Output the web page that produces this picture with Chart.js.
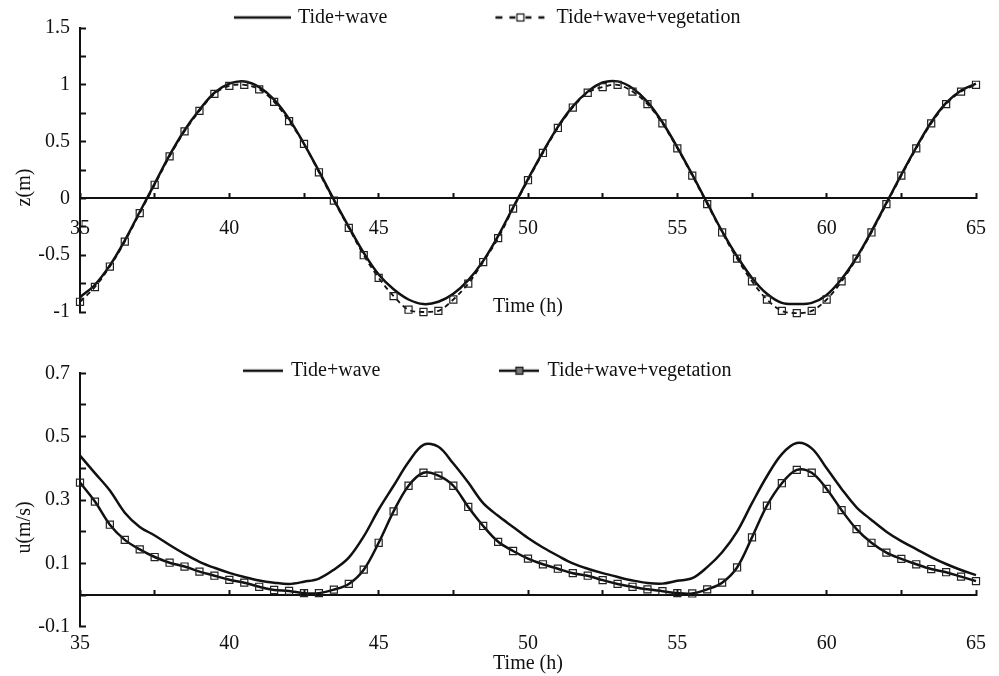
<!DOCTYPE html>
<html><head><meta charset="utf-8">
<script src="https://cdn.jsdelivr.net/npm/chart.js@4.4.1/dist/chart.umd.min.js"></script>
<style>
html,body{margin:0;padding:0;background:#fff;}
#wrap{position:relative;width:999px;height:676px;overflow:hidden;background:#fff;}
#c1{position:absolute;left:0;top:0;}
#c2{position:absolute;left:0;top:340px;}
</style></head><body>
<div id="wrap"><canvas id="c1" width="999" height="340"></canvas><canvas id="c2" width="999" height="336"></canvas></div>
<script>
// ---------- data ----------
const seriesNames = ['Tide+wave', 'Tide+wave+vegetation'];
const times = [35,35.5,36,36.5,37,37.5,38,38.5,39,39.5,
  40,40.5,41,41.5,42,42.5,43,43.5,44,44.5,
  45,45.5,46,46.5,47,47.5,48,48.5,49,49.5,
  50,50.5,51,51.5,52,52.5,53,53.5,54,54.5,
  55,55.5,56,56.5,57,57.5,58,58.5,59,59.5,
  60,60.5,61,61.5,62,62.5,63,63.5,64,64.5,65];
const zTideWave = [-0.87,-0.76,-0.59,-0.37,-0.12,0.13,0.38,0.60,0.78,0.93,
  1.01,1.03,0.98,0.87,0.70,0.48,0.24,-0.01,-0.25,-0.48,
  -0.67,-0.80,-0.89,-0.93,-0.91,-0.84,-0.72,-0.55,-0.33,-0.08,
  0.17,0.41,0.63,0.81,0.94,1.02,1.03,0.97,0.85,0.67,
  0.45,0.21,-0.04,-0.29,-0.51,-0.70,-0.84,-0.92,-0.93,-0.92,
  -0.85,-0.71,-0.52,-0.29,-0.04,0.21,0.45,0.67,0.84,0.95,1.01];
const zTideWaveVeg = [-0.91,-0.78,-0.60,-0.38,-0.13,0.12,0.37,0.59,0.77,0.92,
  0.99,1.00,0.96,0.85,0.68,0.48,0.23,-0.02,-0.26,-0.50,
  -0.70,-0.86,-0.98,-1.00,-0.99,-0.89,-0.75,-0.56,-0.35,-0.09,
  0.16,0.40,0.62,0.80,0.93,0.98,1.00,0.94,0.83,0.66,
  0.44,0.20,-0.05,-0.30,-0.53,-0.73,-0.89,-0.99,-1.01,-0.99,
  -0.89,-0.73,-0.53,-0.30,-0.05,0.20,0.44,0.66,0.83,0.94,1.00];
const uTideWave = [0.44,0.385,0.33,0.26,0.215,0.188,0.158,0.13,0.105,0.086,
  0.07,0.057,0.046,0.039,0.035,0.042,0.052,0.08,0.118,0.185,
  0.27,0.345,0.42,0.474,0.468,0.415,0.355,0.29,0.25,0.215,
  0.18,0.15,0.124,0.10,0.083,0.069,0.057,0.046,0.038,0.036,
  0.045,0.053,0.088,0.135,0.20,0.29,0.375,0.445,0.48,0.463,
  0.40,0.335,0.277,0.237,0.20,0.17,0.145,0.12,0.098,0.079,0.063];
const uTideWaveVeg = [0.355,0.295,0.222,0.174,0.144,0.120,0.102,0.090,0.074,0.061,
  0.048,0.039,0.026,0.016,0.013,0.006,0.006,0.017,0.035,0.080,
  0.165,0.264,0.345,0.386,0.377,0.345,0.278,0.218,0.168,0.139,
  0.115,0.097,0.083,0.069,0.061,0.047,0.035,0.026,0.018,0.012,
  0.006,0.005,0.018,0.039,0.087,0.182,0.282,0.353,0.395,0.386,
  0.335,0.268,0.208,0.165,0.134,0.114,0.097,0.082,0.072,0.058,0.044];
const timeTickLabels = ['35','40','45','50','55','60','65'];
const zTickLabels = ['-1','-0.5','0','0.5','1','1.5'];
const uTickLabels = ['-0.1','0.1','0.3','0.5','0.7'];

// ---------- styling ----------
const INK = '#111';
const FONT = 'Liberation Serif, Times New Roman, serif';
Chart.defaults.font.family = FONT;
Chart.defaults.font.size = 20;
Chart.defaults.color = INK;

function toPoints(xs, ys) { return xs.map((x, i) => ({x: x, y: ys[i]})); }

// legend symbols (small canvases used as point styles)
function symCanvas(w, h, drawFn) {
  const c = document.createElement('canvas');
  c.width = w; c.height = h;
  const g = c.getContext('2d');
  g.strokeStyle = INK; g.fillStyle = INK;
  drawFn(g, w, h);
  return c;
}
const symSolidTop = symCanvas(57, 6, (g, w, h) => { g.lineWidth = 2.5; g.beginPath(); g.moveTo(0, h/2); g.lineTo(w, h/2); g.stroke(); });
const symDashTop = symCanvas(52, 12, (g, w, h) => {
  g.lineWidth = 2.5;
  [[1,8],[15,21],[31,37],[44,50]].forEach(s => { g.beginPath(); g.moveTo(s[0], h/2); g.lineTo(s[1], h/2); g.stroke(); });
  g.lineWidth = 1.2; g.fillStyle = '#fff'; g.fillRect(22.5, h/2-3.5, 7, 7); g.strokeRect(22.5, h/2-3.5, 7, 7);
});
const symSolidBot = symCanvas(40, 6, (g, w, h) => { g.lineWidth = 2.5; g.beginPath(); g.moveTo(0, h/2); g.lineTo(w, h/2); g.stroke(); });
const symMarkBot = symCanvas(40, 12, (g, w, h) => {
  g.lineWidth = 2.5; g.beginPath(); g.moveTo(0, h/2); g.lineTo(w, h/2); g.stroke();
  g.lineWidth = 1.2; g.fillStyle = '#777'; g.fillRect(16.5, h/2-3.5, 7, 7); g.strokeRect(16.5, h/2-3.5, 7, 7);
});

// place the legend row like in the reference
const legendPlace = {
  id: 'legendPlace',
  afterLayout(chart, args, o) {
    const L = chart.legend;
    if (!L) return;
    const p = L.options.labels.padding;
    L.left = o.x - p;
    L.right = chart.width;
    L.width = L.right - L.left;
    L.top = o.y - p - 10;
    L.bottom = o.y + 20;
    L.height = L.bottom - L.top;
  }
};

function makeChart(canvasId, cfg) {
  const pad = cfg.legendPad;
  return new Chart(document.getElementById(canvasId), {
    type: 'line',
    data: {
      datasets: [
        {
          label: seriesNames[0], data: toPoints(times, cfg.s1),
          borderColor: INK, borderWidth: 2.5, pointRadius: 0, tension: 0.35,
          fill: false, order: 1, clip: 8
        },
        {
          label: seriesNames[1], data: toPoints(times, cfg.s2),
          borderColor: INK, borderWidth: cfg.dashed ? 1.8 : 2.5, borderDash: cfg.dashed ? [5, 4] : [],
          pointStyle: 'rect', pointRadius: 5, pointBorderWidth: 1.2, pointBorderColor: '#222',
          pointBackgroundColor: 'rgba(255,255,255,0)', tension: 0.35, fill: false, order: 0, clip: 8
        }
      ]
    },
    options: {
      responsive: false, animation: false, devicePixelRatio: 1,
      layout: {padding: {left: 0, right: 23, top: cfg.padTop, bottom: cfg.padBottom}},
      plugins: {
        tooltip: {enabled: false},
        legend: {
          display: true, position: 'top', align: 'start', maxHeight: 20,
          labels: {
            usePointStyle: true, pointStyleWidth: cfg.boxW, padding: pad,
            font: {family: FONT, size: 20}, color: INK,
            generateLabels: () => cfg.symbols.map((s, i) => ({
              text: seriesNames[i], pointStyle: s, datasetIndex: i, hidden: false,
              fillStyle: INK, strokeStyle: INK, lineWidth: 0, fontColor: INK
            }))
          }
        },
        legendPlace: {x: cfg.legendX, y: cfg.legendY}
      },
      scales: {
        x: {
          type: 'linear', position: {y: 0}, min: 35, max: 65,
          afterFit: s => { s.paddingLeft = 0; s.paddingRight = 0; },
          border: {display: true, color: INK, width: 2},
          grid: {display: true, drawOnChartArea: false, drawTicks: true, tickLength: -6, tickColor: INK, tickWidth: 2},
          ticks: {
            stepSize: 2.5, autoSkip: false, maxRotation: 0, padding: cfg.xTickPad, color: INK,
            font: {family: FONT, size: 20},
            callback: v => timeTickLabels.includes(String(v)) ? String(v) : ''
          },
          title: {display: true, text: 'Time (h)', color: INK, font: {family: FONT, size: 20},
                  padding: {top: cfg.xTitlePad, bottom: 0}}
        },
        y: {
          type: 'linear', position: 'left', min: cfg.yMin, max: cfg.yMax,
          afterFit: s => { s.width = 80; },
          border: {display: true, color: INK, width: 2},
          grid: {display: true, drawOnChartArea: false, drawTicks: true, tickLength: -6, tickColor: INK, tickWidth: 2},
          ticks: {
            stepSize: cfg.yStep, autoSkip: false, padding: 16, color: INK,
            font: {family: FONT, size: 20},
            callback: v => { const s = String(Math.round(v * 100) / 100); return cfg.yLabels.includes(s) ? s : ''; }
          },
          title: {display: true, text: cfg.yTitle, color: INK, font: {family: FONT, size: 20},
                  padding: {top: 12.5, bottom: 0}}
        }
      }
    },
    plugins: [legendPlace]
  });
}

makeChart('c1', {
  s1: zTideWave, s2: zTideWaveVeg, dashed: true,
  yMin: -1, yMax: 1.5, yStep: 0.25, yLabels: zTickLabels, yTitle: 'z(m)       ',
  padTop: 2.5, padBottom: 20.7, xTickPad: 24.3, xTitlePad: 29.7,
  symbols: [symSolidTop, symDashTop], boxW: 52, legendPad: 107, legendX: 236, legendY: 17.5
});
makeChart('c2', {
  s1: uTideWave, s2: uTideWaveVeg, dashed: false,
  yMin: -0.1, yMax: 0.7, yStep: 0.1, yLabels: uTickLabels, yTitle: 'u(m/s)           ',
  padTop: 13.3, padBottom: 49.3, xTickPad: 42.7, xTitlePad: -46.4,
  symbols: [symSolidBot, symMarkBot], boxW: 36, legendPad: 121, legendX: 245, legendY: 30.7
});
</script>
</body></html>
